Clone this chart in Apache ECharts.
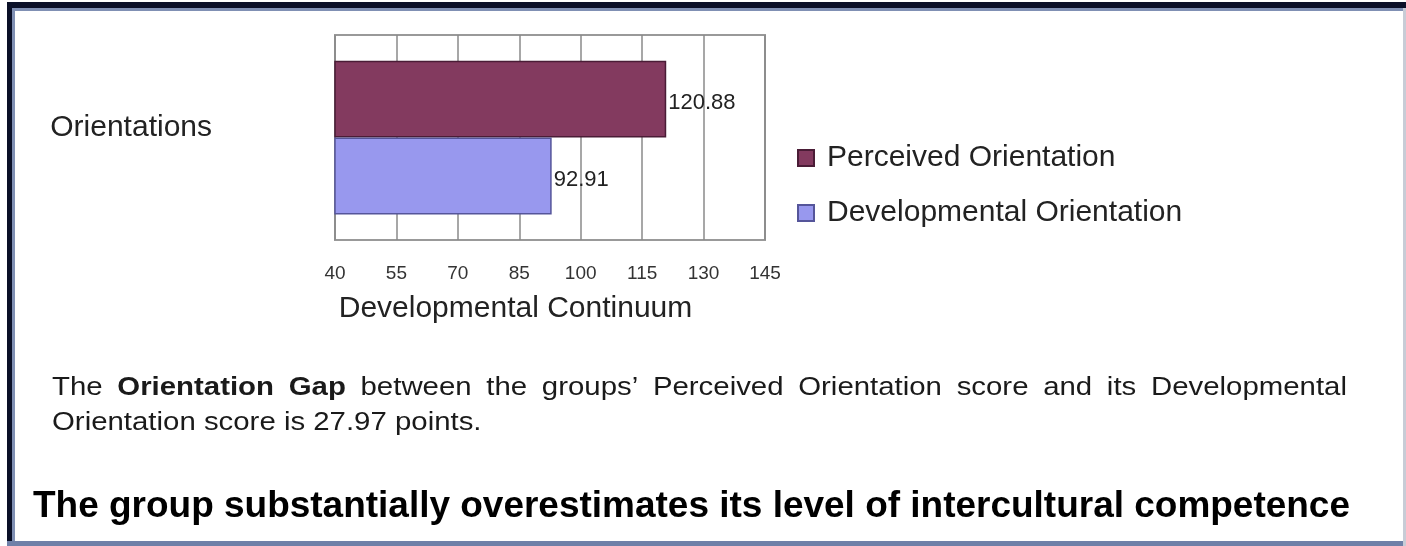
<!DOCTYPE html>
<html>
<head>
<meta charset="utf-8">
<script src="https://cdn.jsdelivr.net/npm/echarts@6/dist/echarts.min.js"></script>
<style>
html,body{margin:0;padding:0;background:#fff;}
#chart{width:1406px;height:546px;}
</style>
</head>
<body>
<div id="chart"></div>
<script>
const categories = ['Orientations'];
const seriesNames = ['Perceived Orientation', 'Developmental Orientation'];
const perceivedValues = [120.88];
const developmentalValues = [92.91];
const xTicks = { min: 40, max: 145, interval: 15 };
const axisName = 'Developmental Continuum';
const gapLine1Words = ['The', '{b|Orientation}', '{b|Gap}', 'between', 'the', 'groups’', 'Perceived', 'Orientation', 'score', 'and', 'its', 'Developmental'];
const gapLine2 = 'Orientation score is 27.97 points.';
const conclusion = 'The group substantially overestimates its level of intercultural competence';

const FONT = '"Liberation Sans", Arial, Helvetica, sans-serif';
const chart = echarts.init(document.getElementById('chart'), null, { renderer: 'canvas' });

chart.setOption({
  backgroundColor: '#ffffff',
  textStyle: { fontFamily: FONT },
  animation: false,
  grid: { left: 335, right: 641, top: 35, bottom: 306, show: true, borderColor: '#999999', borderWidth: 2, containLabel: false },
  xAxis: {
    type: 'value',
    min: xTicks.min, max: xTicks.max, interval: xTicks.interval,
    axisLine: { show: false },
    axisTick: { show: false },
    axisLabel: { margin: 24, fontSize: 19, color: '#333333', fontFamily: FONT },
    splitLine: { show: true, lineStyle: { color: '#8a8a8a', width: 1.5 } },
    name: axisName,
    nameLocation: 'middle',
    nameGap: 54,
    nameTextStyle: { fontSize: 30, color: '#222222', fontFamily: FONT, padding: [0, 69, 0, 0] }
  },
  yAxis: {
    type: 'category',
    data: categories,
    axisLine: { show: false },
    axisTick: { show: false },
    axisLabel: { margin: 123, fontSize: 30, color: '#222222', fontFamily: FONT, verticalAlign: 'bottom', lineHeight: 19 },
    splitLine: { show: false }
  },
  legend: {
    orient: 'vertical',
    left: 792,
    top: 138,
    itemWidth: 16,
    itemHeight: 16,
    itemGap: 25,
    icon: 'rect',
    textStyle: { fontSize: 30, lineHeight: 29, color: '#222222', fontFamily: FONT, padding: [0, 0, 0, 8] },
    data: seriesNames
  },
  series: [
    {
      name: seriesNames[0],
      type: 'bar',
      data: perceivedValues,
      barGap: '0%',
      barCategoryGap: '25%',
      itemStyle: { color: '#833a5f', borderColor: '#4a1c36', borderWidth: 1.5 },
      label: { show: true, position: 'right', distance: 2, offset: [0, 4], fontSize: 22, color: '#222222', fontFamily: FONT, formatter: '{c}' }
    },
    {
      name: seriesNames[1],
      type: 'bar',
      data: developmentalValues,
      barGap: '0%',
      barCategoryGap: '25%',
      itemStyle: { color: '#9898ee', borderColor: '#55559a', borderWidth: 1.5 },
      label: { show: true, position: 'right', distance: 2, offset: [0, 4], fontSize: 22, color: '#222222', fontFamily: FONT, formatter: '{c}' }
    }
  ],
  graphic: [
    { type: 'rect', shape: { x: 7, y: 2, width: 1399, height: 6 }, style: { fill: '#0b1028' }, silent: true },
    { type: 'rect', shape: { x: 12, y: 8, width: 1394, height: 3 }, style: { fill: '#8090b4' }, silent: true },
    { type: 'rect', shape: { x: 7, y: 2, width: 5, height: 544 }, style: { fill: '#0b1028' }, silent: true },
    { type: 'rect', shape: { x: 12, y: 8, width: 3, height: 538 }, style: { fill: '#8090b4' }, silent: true },
    { type: 'rect', shape: { x: 7, y: 541, width: 1399, height: 5 }, style: { fill: '#6f80a8' }, silent: true },
    { type: 'rect', shape: { x: 1403, y: 8, width: 3, height: 538 }, style: { fill: '#c8ccd6' }, silent: true },
    {
      type: 'text', x: 52, y: 388, scaleX: 1.13, silent: true,
      style: {
        text: gapLine1Words.join('{s| }'),
        font: '26px ' + FONT,
        fill: '#1a1a1a',
        verticalAlign: 'middle',
        align: 'left',
        rich: {
          b: { fontWeight: 'bold', fontSize: 26, fontFamily: FONT, fill: '#1a1a1a' },
          s: { fontSize: 26, fontFamily: FONT, width: 13 }
        }
      }
    },
    {
      type: 'text', x: 52, y: 423, scaleX: 1.13, silent: true,
      style: { text: gapLine2, font: '26px ' + FONT, fill: '#1a1a1a', verticalAlign: 'middle', align: 'left' }
    },
    {
      type: 'text', x: 33, y: 507, scaleX: 1.027, silent: true,
      style: { text: conclusion, font: 'bold 36px ' + FONT, fill: '#000000', verticalAlign: 'middle', align: 'left' }
    }
  ]
});
</script>
</body>
</html>
